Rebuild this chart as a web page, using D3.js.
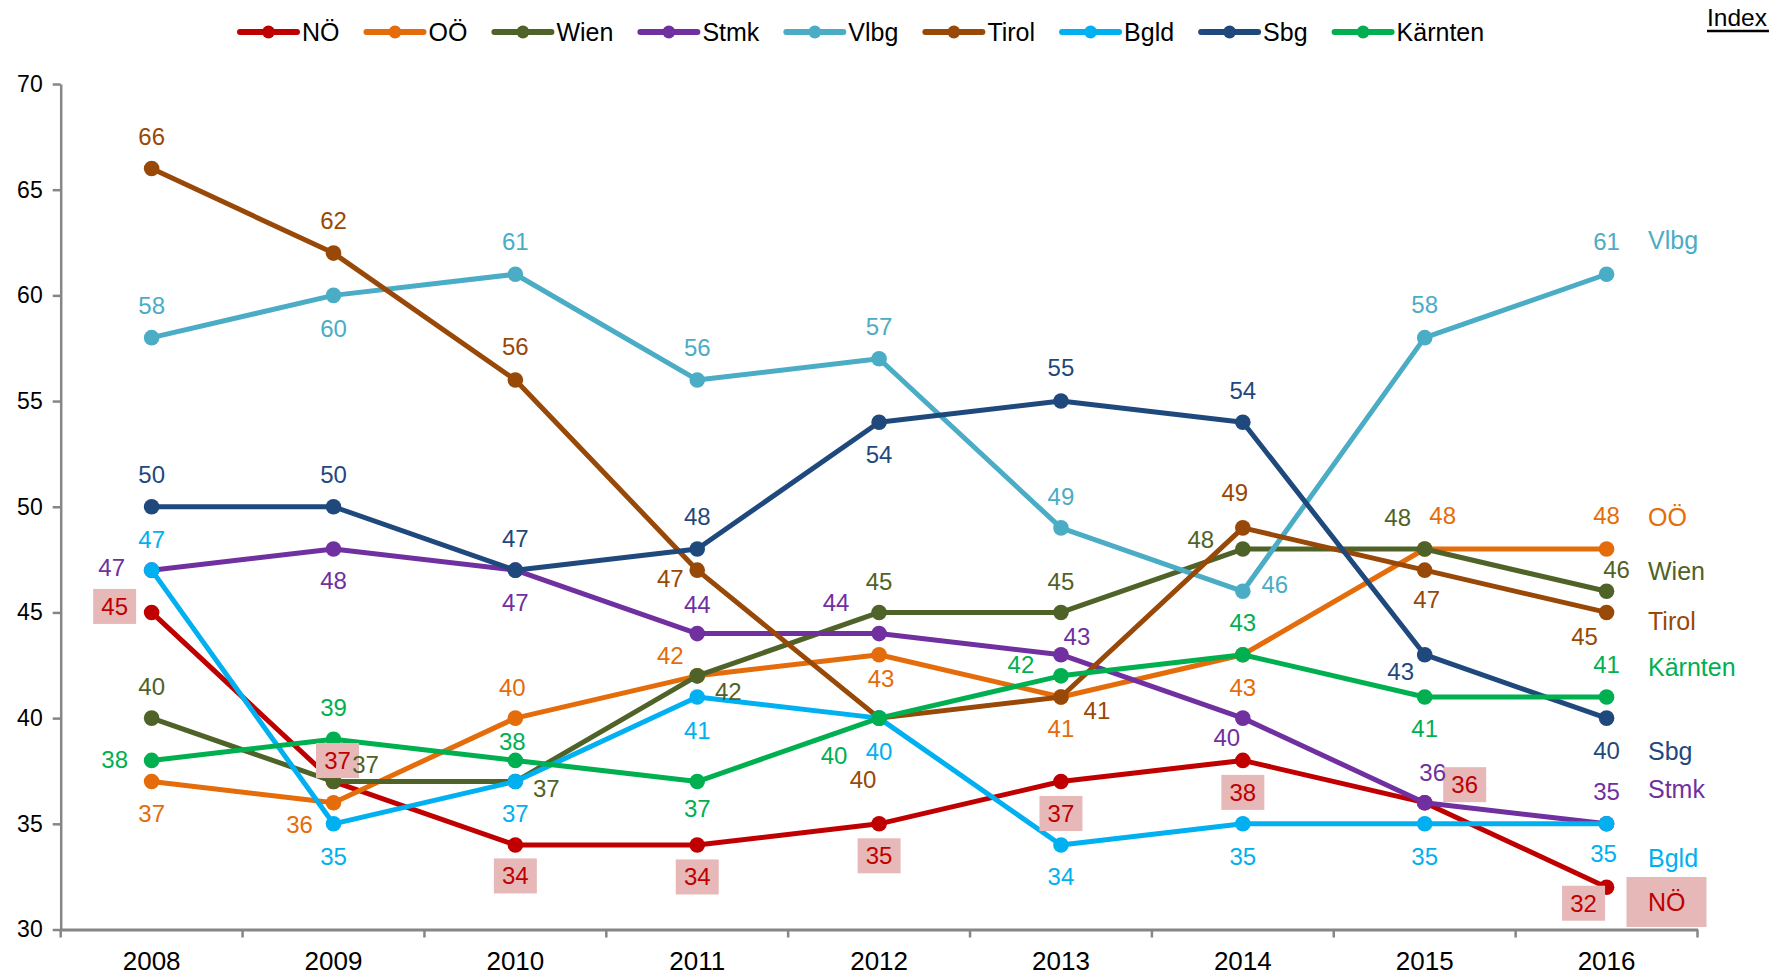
<!DOCTYPE html>
<html><head><meta charset="utf-8">
<script src="https://cdn.jsdelivr.net/npm/d3@7"></script>
<style>
body{margin:0;background:#fff;}
svg{display:block;font-family:"Liberation Sans",Arial,Helvetica,sans-serif;}
</style>
</head><body>
<svg id="chart" width="1778" height="976"></svg>
<script>
// ---------- DATA ----------
const years = ["2008","2009","2010","2011","2012","2013","2014","2015","2016"];
const seriesNames = ["NÖ","OÖ","Wien","Stmk","Vlbg","Tirol","Bgld","Sbg","Kärnten"];
const valuesNOE     = [45, 37, 34, 34, 35, 37, 38, 36, 32];
const valuesOOE     = [37, 36, 40, 42, 43, 41, 43, 48, 48];
const valuesWien    = [40, 37, 37, 42, 45, 45, 48, 48, 46];
const valuesStmk    = [47, 48, 47, 44, 44, 43, 40, 36, 35];
const valuesVlbg    = [58, 60, 61, 56, 57, 49, 46, 58, 61];
const valuesTirol   = [66, 62, 56, 47, 40, 41, 49, 47, 45];
const valuesBgld    = [47, 35, 37, 41, 40, 34, 35, 35, 35];
const valuesSbg     = [50, 50, 47, 48, 54, 55, 54, 43, 40];
const valuesKaernten= [38, 39, 38, 37, 40, 42, 43, 41, 41];
const seriesValues = [valuesNOE, valuesOOE, valuesWien, valuesStmk, valuesVlbg, valuesTirol, valuesBgld, valuesSbg, valuesKaernten];
const yTicks = [30, 35, 40, 45, 50, 55, 60, 65, 70];
const unitLabel = "Index";
const highlightedSeries = "NÖ";

// ---------- STYLE / LAYOUT ----------
const seriesColors = ["#C00000","#E46C0A","#4F6228","#7030A0","#4BACC6","#984807","#00B0F0","#1F497D","#00B050"];
const boxColor = "#E6B9B8";
const axisColor = "#868686";
// label offsets (px) from each point to its value label centre
const labelOffsets = [
  [[-37,-6],[4,-21],[0,31],[0,32],[0,32],[0,32],[0,32],[40,-18],[-23,16]],
  [[0,32],[-34,22],[-3,-31],[-27,-20],[2,24],[0,32],[0,33],[18,-33],[0,-33]],
  [[0,-32],[32,-17],[31,7],[31,16],[0,-31],[0,-31],[-42,-9],[-27,-31],[10,-22]],
  [[-40,-3],[0,32],[0,32],[0,-29],[-43,-31],[16,-18],[-16,19],[8,-30],[0,-32]],
  [[0,-32],[0,33],[0,-33],[0,-32],[0,-32],[0,-31],[32,-7],[0,-33],[0,-33]],
  [[0,-32],[0,-33],[0,-33],[-27,8],[-16,61],[36,14],[-8,-35],[2,29],[-22,24]],
  [[0,-31],[0,33],[0,32],[0,34],[0,33],[0,32],[0,33],[0,33],[-3,30]],
  [[0,-32],[0,-32],[0,-32],[0,-32],[0,32],[0,-33],[0,-32],[-24,17],[0,32]],
  [[-37,-1],[0,-32],[-3,-19],[0,27],[-45,37],[-40,-11],[0,-32],[0,32],[0,-32]]
];
// vertical centre (px) of the series name labels at the right
const endLabelY = [902, 517, 571, 789, 240, 621, 858, 751, 667];

const W = 1778, H = 976;
const plot = {left: 60.7, right: 1697.5, top: 84, bottom: 929.5};

const svg = d3.select("#chart");
svg.append("rect").attr("width", W).attr("height", H).attr("fill", "#fff");

const x = d3.scaleBand().domain(years).range([plot.left, plot.right]).padding(0);
const xc = yr => x(yr) + x.bandwidth() / 2;
const y = d3.scaleLinear().domain([30, 70]).range([plot.bottom, plot.top]);

// ---------- Y AXIS ----------
const yAxis = d3.axisLeft(y).tickValues(yTicks).tickSize(8).tickSizeOuter(0).tickPadding(10);
const gy = svg.append("g").attr("transform", `translate(${plot.left},0)`).call(yAxis);
gy.select(".domain").attr("stroke", axisColor).attr("stroke-width", 2.5);
gy.selectAll(".tick line").attr("stroke", axisColor).attr("stroke-width", 2.5);
gy.selectAll(".tick text").attr("font-size", 23).attr("fill", "#000")
  .attr("font-family", "'Liberation Sans',Arial,sans-serif");

// ---------- X AXIS ----------
const xAxis = d3.axisBottom(x).tickSize(0).tickSizeOuter(0).tickPadding(22);
const gx = svg.append("g").attr("transform", `translate(0,${plot.bottom})`).call(xAxis);
gx.select(".domain").attr("stroke", axisColor).attr("stroke-width", 3);
gx.selectAll(".tick text").attr("font-size", 26).attr("fill", "#000")
  .attr("font-family", "'Liberation Sans',Arial,sans-serif");
// tick marks at band boundaries
const boundaries = years.map(yr => x(yr)).concat([x(years[years.length-1]) + x.bandwidth()]);
gx.selectAll("line.bnd").data(boundaries).enter().append("line")
  .attr("class", "bnd").attr("x1", d => d).attr("x2", d => d)
  .attr("y1", 0).attr("y2", 8).attr("stroke", axisColor).attr("stroke-width", 2.5);

// ---------- SERIES ----------
const series = seriesNames.map((name, i) => ({
  name, color: seriesColors[i], values: seriesValues[i], offsets: labelOffsets[i],
  boxed: name === highlightedSeries, endY: endLabelY[i]
}));

const line = d3.line().x((d, i) => xc(years[i])).y(d => y(d));
const gLines = svg.append("g");
series.forEach(s => {
  const g = gLines.append("g");
  g.append("path").datum(s.values).attr("d", line).attr("fill", "none")
    .attr("stroke", s.color).attr("stroke-width", 5).attr("stroke-linejoin", "round");
  g.selectAll("circle").data(s.values).enter().append("circle")
    .attr("cx", (d, i) => xc(years[i])).attr("cy", d => y(d)).attr("r", 7.8).attr("fill", s.color);
});

// ---------- VALUE LABELS ----------
const gLabels = svg.append("g");
series.forEach(s => {
  s.values.forEach((v, i) => {
    const cx = xc(years[i]) + s.offsets[i][0];
    const cy = y(v) + s.offsets[i][1];
    if (s.boxed) {
      gLabels.append("rect").attr("x", cx - 21.5).attr("y", cy - 17.5)
        .attr("width", 43).attr("height", 35).attr("fill", boxColor);
    }
    gLabels.append("text").attr("x", cx).attr("y", cy).attr("dy", "0.35em")
      .attr("text-anchor", "middle").attr("font-size", 24).attr("fill", s.color).text(v);
  });
});

// ---------- SERIES NAME LABELS (right) ----------
const gEnd = svg.append("g");
series.forEach(s => {
  if (s.boxed) {
    gEnd.append("rect").attr("x", 1626.5).attr("y", s.endY - 25)
      .attr("width", 80).attr("height", 50).attr("fill", boxColor);
  }
  gEnd.append("text").attr("x", 1648).attr("y", s.endY).attr("dy", "0.35em")
    .attr("font-size", 25).attr("fill", s.color).text(s.name);
});

// ---------- LEGEND ----------
const gLeg = svg.append("g");
let lx = 240;
const ly = 32;
series.forEach(s => {
  const it = gLeg.append("g");
  it.append("line").attr("x1", lx).attr("x2", lx + 57).attr("y1", ly).attr("y2", ly)
    .attr("stroke", s.color).attr("stroke-width", 6).attr("stroke-linecap", "round");
  it.append("circle").attr("cx", lx + 28.5).attr("cy", ly).attr("r", 6.5).attr("fill", s.color);
  const t = it.append("text").attr("x", lx + 62).attr("y", ly).attr("dy", "0.35em")
    .attr("font-size", 25).attr("fill", "#000").text(s.name);
  lx += 62 + t.node().getComputedTextLength() + 27;
});

// ---------- UNIT LABEL ----------
const ut = svg.append("text").attr("x", 1707).attr("y", 26).attr("font-size", 24.5)
  .attr("fill", "#000").text(unitLabel);
const uw = ut.node().getComputedTextLength();
svg.append("line").attr("x1", 1707).attr("x2", 1707 + uw + 2).attr("y1", 31).attr("y2", 31)
  .attr("stroke", "#000").attr("stroke-width", 2.5);
</script>
</body></html>
